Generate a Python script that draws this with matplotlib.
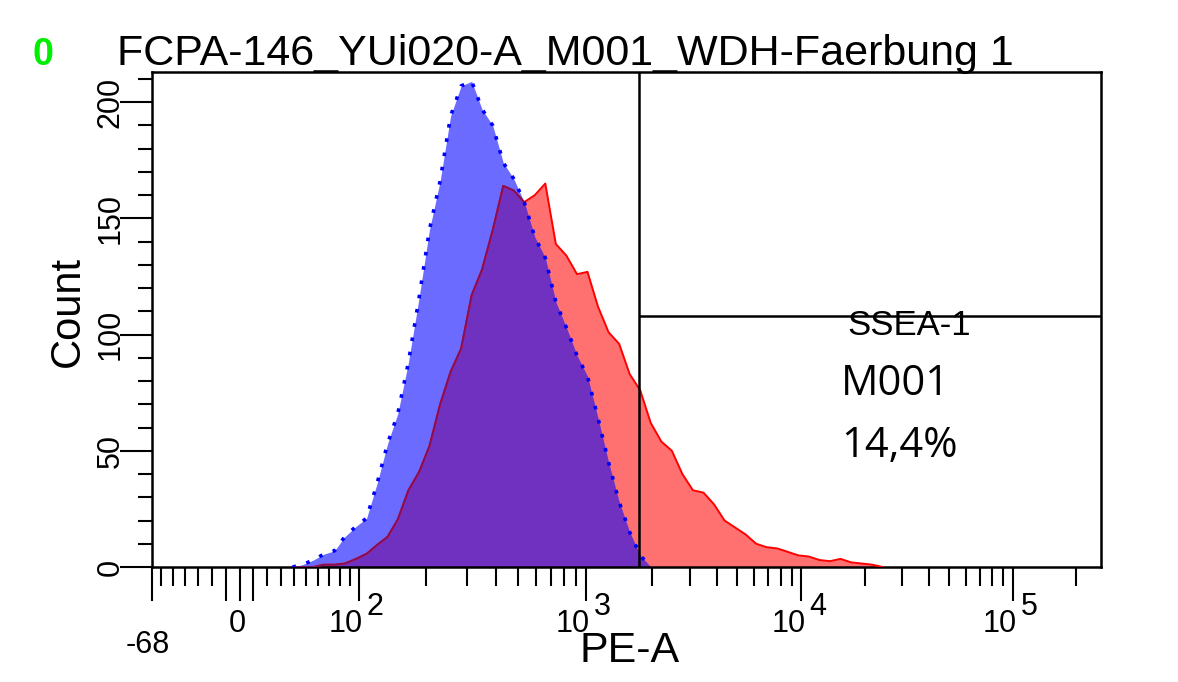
import numpy as np
import matplotlib
matplotlib.use("Agg")
import matplotlib.pyplot as plt
from matplotlib.ticker import FixedLocator, MultipleLocator, NullFormatter

# PE-A channel values where the histograms were read
pe_a = np.array([39, 47, 56, 65, 75, 85, 97, 109, 122, 136, 151, 168, 187, 207,
                 230, 255, 283, 314, 348, 387, 430, 478, 531, 591, 658, 733, 817,
                 912, 1017, 1135, 1268, 1417, 1583, 1770, 1979, 2214, 2478, 2773,
                 3105, 3476, 3892, 4360, 4886, 5474, 6135, 6877, 7708, 8642, 9689,
                 10860, 12180, 13660, 15320, 17180, 19270, 21610, 24240])

# control overlay (blue)
control = np.array([0, 1, 3, 5.5, 7, 13, 17.5, 21, 36, 53, 66, 88, 116, 145,
                    166, 194, 207, 209, 197, 190, 174, 167, 157, 142, 133, 114, 103,
                    91, 82, 64, 45, 28, 15, 5, 0, 0, 0, 0,
                    0, 0, 0, 0, 0, 0, 0, 0, 0, 0, 0,
                    0, 0, 0, 0, 0, 0, 0, 0])

# SSEA-1 stained sample (red)
ssea1 = np.array([0, 0, 0, 1, 1, 1.5, 3.5, 5.7, 9.5, 13, 20.5, 33, 41, 52,
                  70, 84, 94, 117, 128, 145, 164, 162, 157, 160, 165, 139, 134,
                  126, 127, 112, 101, 96, 83, 76, 62, 54, 50, 40,
                  33, 32, 27, 20, 17, 14, 10, 8.5, 8, 6.5, 5,
                  4.5, 3, 2.5, 3.5, 2, 1.5, 1, 0])

gate_low = 1750
gate_count = 108
x_min, x_max = -68, 262144
y_max = 213

major_x = [-68, -10, 0, 10, 100, 1000, 10000, 100000]
minor_x = ([-60, -50, -40, -30, -20] + [20, 30, 40, 50, 60, 70, 80, 90]
           + [200, 300, 400, 500, 600, 700, 800, 900]
           + [2000, 3000, 4000, 5000, 6000, 7000, 8000, 9000]
           + [20000, 30000, 40000, 50000, 60000, 70000, 80000, 90000] + [200000])
decades = [2, 3, 4, 5]

title = "FCPA-146_YUi020-A_M001_WDH-Faerbung 1"

# biexponential (logicle) display: T top of scale, M decades, W linear width
T, M, W = 262144, 4.5, 0.415
ps = np.linspace(1.0001, 20, 200000)
p = np.interp(W, 2 * ps * np.log10(ps) / (ps + 1), ps)
a = T * 10 ** (-(M - W))


def logicle_value(y):
    z = y - W
    s = np.sign(z)
    z = np.abs(z)
    return s * a * (10 ** z - p ** 2 * 10 ** (-z / p) + p ** 2 - 1)


grid_y = np.linspace(-1, M + 1, 40001)
grid_v = logicle_value(grid_y)


def forward(x):
    return np.interp(x, grid_v, grid_y)


def inverse(y):
    return np.interp(y, grid_y, grid_v)


plt.rcParams['font.family'] = ['Liberation Sans', 'DejaVu Sans']

fig = plt.figure(figsize=(11.78, 6.82), dpi=100)
ax = fig.add_axes([152 / 1178, 1 - 567 / 682, 949 / 1178, 495 / 682])
ax.set_xscale('function', functions=(forward, inverse))
ax.set_xlim(x_min, x_max)
ax.set_ylim(0, y_max)

blue_fill = '#6b6bff'
red_fill = '#ff7070'
overlap = '#7030c0'

ax.fill_between(pe_a, 0, ssea1, color=red_fill, lw=0, zorder=1)
ax.fill_between(pe_a, 0, control, color=blue_fill, lw=0, zorder=1)
ax.fill_between(pe_a, 0, np.minimum(control, ssea1), color=overlap, lw=0, zorder=2)

ax.plot(pe_a[2:], ssea1[2:], color='#ff0000', lw=1.4, zorder=3)
hidden = np.where(ssea1 <= control, ssea1, np.nan)
ax.plot(pe_a, hidden, color='#80105a', lw=1.3, zorder=3)
ax.plot(pe_a[:35], control[:35], color='#0000ff', lw=2.6,
        ls=(0, (1, 3)), zorder=4)

# marker M001
ax.axvline(gate_low, color='black', lw=1.8, zorder=5)
ax.hlines(gate_count, gate_low, x_max, color='black', lw=1.8, zorder=5)
ax.text(0.733, 0.469, 'SSEA-1', transform=ax.transAxes, fontsize=25,
        ha='left', va='baseline', zorder=6)
ax.text(0.726, 0.3475, 'M001', transform=ax.transAxes, fontsize=30,
        family='Open Sans', ha='left', va='baseline')
ax.text(0.726, 0.222, '14,4%', transform=ax.transAxes, fontsize=30,
        family='Open Sans', ha='left', va='baseline')

for side in ax.spines.values():
    side.set_linewidth(1.8)

# x axis ticks and labels
ax.xaxis.set_major_locator(FixedLocator(major_x))
ax.xaxis.set_minor_locator(FixedLocator(minor_x))
ax.xaxis.set_major_formatter(NullFormatter())
ax.xaxis.set_minor_formatter(NullFormatter())
ax.tick_params(axis='x', which='major', length=24.5, width=1.5, direction='out')
ax.tick_params(axis='x', which='minor', length=13.5, width=1.5, direction='out')

ax.annotate('-68', xy=(x_min, 0), xycoords=('data', 'axes fraction'),
            xytext=(-4, -86), textcoords='offset pixels', fontsize=22,
            ha='center', va='baseline', annotation_clip=False)
ax.annotate('0', xy=(0, 0), xycoords=('data', 'axes fraction'),
            xytext=(-2, -65), textcoords='offset pixels', fontsize=22,
            ha='center', va='baseline', annotation_clip=False)
for n in decades:
    ax.annotate('10', xy=(10 ** n, 0), xycoords=('data', 'axes fraction'),
                xytext=(4, -65), textcoords='offset pixels', fontsize=22,
                ha='right', va='baseline', annotation_clip=False)
    ax.annotate(str(n), xy=(10 ** n, 0), xycoords=('data', 'axes fraction'),
                xytext=(8, -48), textcoords='offset pixels', fontsize=22,
                ha='left', va='baseline', annotation_clip=False)

# y axis
ax.yaxis.set_major_locator(MultipleLocator(50))
ax.yaxis.set_minor_locator(MultipleLocator(10))
ax.tick_params(axis='y', which='major', length=23, width=1.5, labelsize=22,
               pad=-4, labelrotation=90)
ax.tick_params(axis='y', which='minor', length=10, width=1.5)
plt.setp(ax.get_yticklabels(), va='center')

ax.set_xlabel('PE-A', fontsize=31)
ax.xaxis.set_label_coords(0.5037, -0.13)
ax.set_ylabel('Count', fontsize=30, va='center')
ax.yaxis.set_label_coords(-0.0885, 0.517)

fig.text(117 / 1178, 1 - 65 / 682, title, fontsize=31, va='baseline')
fig.text(33 / 1178, 1 - 65 / 682, '0', fontsize=27, fontweight='bold',
         color='#00ee00', va='baseline')

fig.savefig('out.png', dpi=100, facecolor='white')
